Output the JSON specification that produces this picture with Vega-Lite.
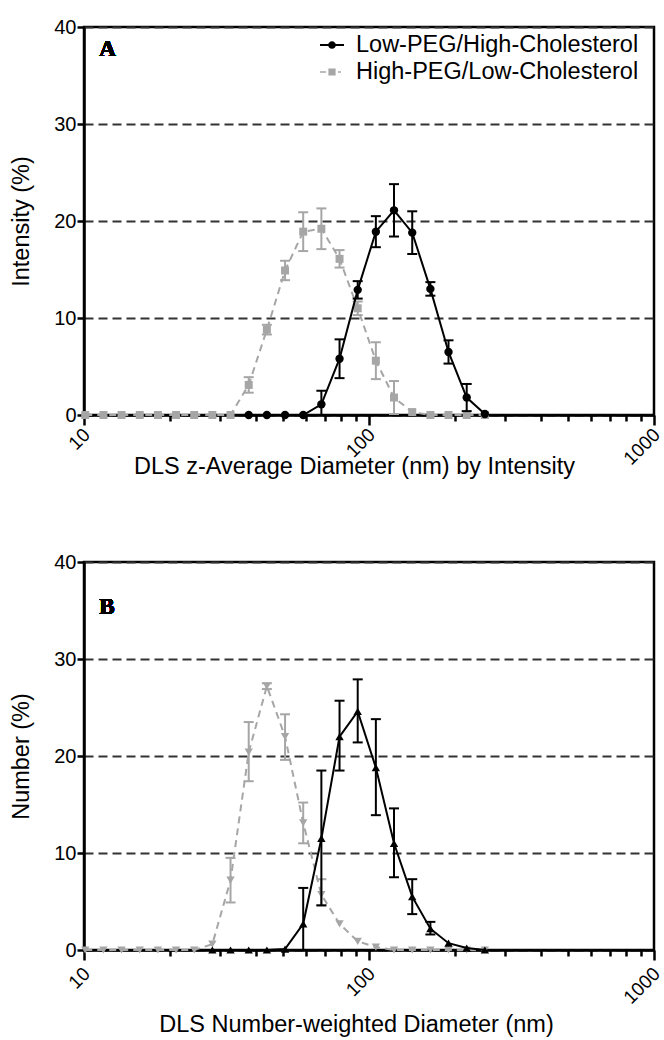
{
  "$schema": "https://vega.github.io/schema/vega-lite/v6.json",
  "padding": {"left": 8, "top": 15, "right": 5, "bottom": 2},
  "background": "white",
  "spacing": 70,
  "config": {
    "view": {"stroke": "black", "strokeWidth": 2.5},
    "font": "Liberation Sans",
    "axis": {"labelFont": "Liberation Sans", "titleFont": "Liberation Sans", "labelColor": "black", "titleColor": "black", "titleFontWeight": "normal"},
    "legend": {"labelFont": "Liberation Sans"}
  },
  "datasets": {
    "A": [
      {"s": "High-PEG/Low-Cholesterol", "d": 10.10, "y": 0},
      {"s": "High-PEG/Low-Cholesterol", "d": 11.70, "y": 0},
      {"s": "High-PEG/Low-Cholesterol", "d": 13.54, "y": 0},
      {"s": "High-PEG/Low-Cholesterol", "d": 15.69, "y": 0},
      {"s": "High-PEG/Low-Cholesterol", "d": 18.17, "y": 0},
      {"s": "High-PEG/Low-Cholesterol", "d": 21.04, "y": 0},
      {"s": "High-PEG/Low-Cholesterol", "d": 24.36, "y": 0},
      {"s": "High-PEG/Low-Cholesterol", "d": 28.21, "y": 0},
      {"s": "High-PEG/Low-Cholesterol", "d": 32.67, "y": 0},
      {"s": "High-PEG/Low-Cholesterol", "d": 37.84, "y": 3.1, "lo": 2.3, "hi": 3.9},
      {"s": "High-PEG/Low-Cholesterol", "d": 43.82, "y": 8.8, "lo": 8.3, "hi": 9.3},
      {"s": "High-PEG/Low-Cholesterol", "d": 50.75, "y": 14.9, "lo": 13.9, "hi": 15.9},
      {"s": "High-PEG/Low-Cholesterol", "d": 58.77, "y": 18.9, "lo": 16.9, "hi": 20.9},
      {"s": "High-PEG/Low-Cholesterol", "d": 68.06, "y": 19.2, "lo": 17.1, "hi": 21.3},
      {"s": "High-PEG/Low-Cholesterol", "d": 78.82, "y": 16.1, "lo": 15.2, "hi": 17.0},
      {"s": "High-PEG/Low-Cholesterol", "d": 91.28, "y": 11.0, "lo": 10.3, "hi": 11.7},
      {"s": "High-PEG/Low-Cholesterol", "d": 105.7, "y": 5.6, "lo": 3.7, "hi": 7.5},
      {"s": "High-PEG/Low-Cholesterol", "d": 122.4, "y": 1.8, "lo": 0.1, "hi": 3.5},
      {"s": "High-PEG/Low-Cholesterol", "d": 141.8, "y": 0.3},
      {"s": "High-PEG/Low-Cholesterol", "d": 164.2, "y": 0},
      {"s": "High-PEG/Low-Cholesterol", "d": 190.1, "y": 0},
      {"s": "High-PEG/Low-Cholesterol", "d": 220.2, "y": 0},
      {"s": "High-PEG/Low-Cholesterol", "d": 255.0, "y": 0},
      {"s": "Low-PEG/High-Cholesterol", "d": 37.84, "y": 0},
      {"s": "Low-PEG/High-Cholesterol", "d": 43.82, "y": 0},
      {"s": "Low-PEG/High-Cholesterol", "d": 50.75, "y": 0},
      {"s": "Low-PEG/High-Cholesterol", "d": 58.77, "y": 0},
      {"s": "Low-PEG/High-Cholesterol", "d": 68.06, "y": 1.1, "lo": 0, "hi": 2.5},
      {"s": "Low-PEG/High-Cholesterol", "d": 78.82, "y": 5.8, "lo": 3.8, "hi": 7.8},
      {"s": "Low-PEG/High-Cholesterol", "d": 91.28, "y": 12.9, "lo": 12.0, "hi": 13.8},
      {"s": "Low-PEG/High-Cholesterol", "d": 105.7, "y": 18.9, "lo": 17.3, "hi": 20.5},
      {"s": "Low-PEG/High-Cholesterol", "d": 122.4, "y": 21.1, "lo": 18.4, "hi": 23.8},
      {"s": "Low-PEG/High-Cholesterol", "d": 141.8, "y": 18.8, "lo": 16.6, "hi": 21.0},
      {"s": "Low-PEG/High-Cholesterol", "d": 164.2, "y": 13.0, "lo": 12.3, "hi": 13.7},
      {"s": "Low-PEG/High-Cholesterol", "d": 190.1, "y": 6.5, "lo": 5.3, "hi": 7.7},
      {"s": "Low-PEG/High-Cholesterol", "d": 220.2, "y": 1.8, "lo": 0.4, "hi": 3.2},
      {"s": "Low-PEG/High-Cholesterol", "d": 255.0, "y": 0.1}
    ],
    "B": [
      {"s": "High-PEG/Low-Cholesterol", "d": 10.10, "y": 0},
      {"s": "High-PEG/Low-Cholesterol", "d": 11.70, "y": 0},
      {"s": "High-PEG/Low-Cholesterol", "d": 13.54, "y": 0},
      {"s": "High-PEG/Low-Cholesterol", "d": 15.69, "y": 0},
      {"s": "High-PEG/Low-Cholesterol", "d": 18.17, "y": 0},
      {"s": "High-PEG/Low-Cholesterol", "d": 21.04, "y": 0},
      {"s": "High-PEG/Low-Cholesterol", "d": 24.36, "y": 0},
      {"s": "High-PEG/Low-Cholesterol", "d": 28.21, "y": 0.6},
      {"s": "High-PEG/Low-Cholesterol", "d": 32.67, "y": 7.2, "lo": 4.9, "hi": 9.5},
      {"s": "High-PEG/Low-Cholesterol", "d": 37.84, "y": 20.4, "lo": 17.4, "hi": 23.5},
      {"s": "High-PEG/Low-Cholesterol", "d": 43.82, "y": 27.2, "lo": 26.9, "hi": 27.5},
      {"s": "High-PEG/Low-Cholesterol", "d": 50.75, "y": 22.0, "lo": 19.6, "hi": 24.3},
      {"s": "High-PEG/Low-Cholesterol", "d": 58.77, "y": 13.1, "lo": 11.0, "hi": 15.2},
      {"s": "High-PEG/Low-Cholesterol", "d": 68.06, "y": 5.7, "lo": 4.6, "hi": 7.3},
      {"s": "High-PEG/Low-Cholesterol", "d": 78.82, "y": 2.7},
      {"s": "High-PEG/Low-Cholesterol", "d": 91.28, "y": 0.9},
      {"s": "High-PEG/Low-Cholesterol", "d": 105.7, "y": 0.3},
      {"s": "High-PEG/Low-Cholesterol", "d": 122.4, "y": 0},
      {"s": "High-PEG/Low-Cholesterol", "d": 141.8, "y": 0},
      {"s": "High-PEG/Low-Cholesterol", "d": 164.2, "y": 0},
      {"s": "High-PEG/Low-Cholesterol", "d": 190.1, "y": 0},
      {"s": "High-PEG/Low-Cholesterol", "d": 220.2, "y": 0},
      {"s": "High-PEG/Low-Cholesterol", "d": 255.0, "y": 0},
      {"s": "Low-PEG/High-Cholesterol", "d": 28.21, "y": 0},
      {"s": "Low-PEG/High-Cholesterol", "d": 32.67, "y": 0},
      {"s": "Low-PEG/High-Cholesterol", "d": 37.84, "y": 0},
      {"s": "Low-PEG/High-Cholesterol", "d": 43.82, "y": 0},
      {"s": "Low-PEG/High-Cholesterol", "d": 50.75, "y": 0.1},
      {"s": "Low-PEG/High-Cholesterol", "d": 58.77, "y": 2.7, "lo": 0, "hi": 6.4},
      {"s": "Low-PEG/High-Cholesterol", "d": 68.06, "y": 11.5, "lo": 4.6, "hi": 18.5},
      {"s": "Low-PEG/High-Cholesterol", "d": 78.82, "y": 22.0, "lo": 18.5, "hi": 25.7},
      {"s": "Low-PEG/High-Cholesterol", "d": 91.28, "y": 24.6, "lo": 21.4, "hi": 27.9},
      {"s": "Low-PEG/High-Cholesterol", "d": 105.7, "y": 18.8, "lo": 13.9, "hi": 23.8},
      {"s": "Low-PEG/High-Cholesterol", "d": 122.4, "y": 11.0, "lo": 7.5, "hi": 14.6},
      {"s": "Low-PEG/High-Cholesterol", "d": 141.8, "y": 5.5, "lo": 3.7, "hi": 7.3},
      {"s": "Low-PEG/High-Cholesterol", "d": 164.2, "y": 2.2, "lo": 1.6, "hi": 2.9},
      {"s": "Low-PEG/High-Cholesterol", "d": 190.1, "y": 0.7},
      {"s": "Low-PEG/High-Cholesterol", "d": 220.2, "y": 0.2},
      {"s": "Low-PEG/High-Cholesterol", "d": 255.0, "y": 0}
    ]
  },
  "vconcat": [
    {
      "width": 570, "height": 388,
      "data": {"name": "A"},
      "resolve": {"axis": {"x": "independent"}},
      "layer": [
        {"transform": [{"filter": "datum.s === 'High-PEG/Low-Cholesterol'"}],
         "mark": {"type": "line", "color": "#a6a6a6", "strokeWidth": 2, "strokeDash": [7, 5]},
         "encoding": {
           "x": {"field": "d", "type": "quantitative", "scale": {"type": "log", "domain": [10, 1000]},
                 "axis": {"orient": "bottom", "values": [10, 100, 1000], "format": "d", "tickSize": 10, "tickWidth": 2.5, "tickColor": "black", "domainWidth": 2.5, "domainColor": "black", "labelAngle": -45, "labelFontSize": 19, "labelPadding": 0, "labelOffset": -4, "grid": false, "title": "DLS z-Average Diameter (nm) by Intensity", "titleFontSize": 23.5, "titlePadding": -14, "titleX": 270}},
           "y": {"field": "y", "type": "quantitative", "title": "Intensity (%)", "scale": {"domain": [0, 40]},
                 "axis": {"values": [0, 10, 20, 30, 40], "tickSize": 7, "tickWidth": 2.5, "tickColor": "black", "domainWidth": 2.5, "domainColor": "black", "labelFontSize": 20, "labelPadding": 1, "grid": true, "gridDash": [9, 5], "gridColor": "#333333", "gridWidth": 2, "titleFontSize": 23.5, "titlePadding": 20}}
         }},
        {"transform": [{"filter": "datum.s === 'High-PEG/Low-Cholesterol' && isValid(datum.hi)"}],
         "mark": {"type": "rule", "color": "#a6a6a6", "strokeWidth": 2},
         "encoding": {
           "x": {"field": "d", "type": "quantitative", "axis": null},
           "y": {"field": "lo", "type": "quantitative", "title": "Intensity (%)"},
           "y2": {"field": "hi"}
         }},
        {"transform": [{"filter": "datum.s === 'High-PEG/Low-Cholesterol' && isValid(datum.hi)"}, {"fold": ["lo", "hi"], "as": ["k", "v"]}],
         "mark": {"type": "tick", "orient": "horizontal", "color": "#a6a6a6", "size": 10, "thickness": 2, "opacity": 1},
         "encoding": {
           "x": {"field": "d", "type": "quantitative", "axis": null},
           "y": {"field": "v", "type": "quantitative", "title": "Intensity (%)"}
         }},
        {"transform": [{"filter": "datum.s === 'High-PEG/Low-Cholesterol'"}],
         "mark": {"type": "point", "shape": "square", "filled": true, "size": 64, "color": "#a6a6a6", "opacity": 1},
         "encoding": {
           "x": {"field": "d", "type": "quantitative", "axis": null},
           "y": {"field": "y", "type": "quantitative", "title": "Intensity (%)"}
         }},
        {"transform": [{"filter": "datum.s === 'Low-PEG/High-Cholesterol'"}],
         "mark": {"type": "line", "color": "black", "strokeWidth": 2},
         "encoding": {
           "x": {"field": "d", "type": "quantitative", "axis": null},
           "y": {"field": "y", "type": "quantitative", "title": "Intensity (%)"}
         }},
        {"transform": [{"filter": "datum.s === 'Low-PEG/High-Cholesterol' && isValid(datum.hi)"}],
         "mark": {"type": "rule", "color": "black", "strokeWidth": 2},
         "encoding": {
           "x": {"field": "d", "type": "quantitative", "axis": null},
           "y": {"field": "lo", "type": "quantitative", "title": "Intensity (%)"},
           "y2": {"field": "hi"}
         }},
        {"transform": [{"filter": "datum.s === 'Low-PEG/High-Cholesterol' && isValid(datum.hi)"}, {"fold": ["lo", "hi"], "as": ["k", "v"]}],
         "mark": {"type": "tick", "orient": "horizontal", "color": "black", "size": 10, "thickness": 2, "opacity": 1},
         "encoding": {
           "x": {"field": "d", "type": "quantitative", "axis": null},
           "y": {"field": "v", "type": "quantitative", "title": "Intensity (%)"}
         }},
        {"transform": [{"filter": "datum.s === 'Low-PEG/High-Cholesterol'"}],
         "mark": {"type": "point", "shape": "circle", "filled": true, "size": 70, "color": "black", "opacity": 1},
         "encoding": {
           "x": {"field": "d", "type": "quantitative", "axis": null},
           "y": {"field": "y", "type": "quantitative", "title": "Intensity (%)"}
         }},
        {"mark": {"type": "text", "text": "A", "font": "Liberation Serif", "fontWeight": "bold", "fontSize": 23, "align": "left", "baseline": "middle", "color": "black"},
         "encoding": {
           "x": {"datum": 11.3, "type": "quantitative", "axis": null},
           "y": {"datum": 37.7, "type": "quantitative", "title": "Intensity (%)"}
         }},
        {"transform": [{"filter": "datum.y > 1000"}],
         "mark": {"type": "point", "filled": true, "opacity": 1},
         "encoding": {
           "x": {"field": "d", "type": "quantitative",
                 "axis": {"orient": "bottom", "values": [20, 30, 40, 50, 60, 70, 80, 90, 200, 300, 400, 500, 600, 700, 800, 900], "tickSize": 6, "tickWidth": 2.5, "tickColor": "black", "labels": false, "domain": false, "grid": false, "title": null}},
           "y": {"field": "y", "type": "quantitative", "title": "Intensity (%)"},
           "color": {"field": "s", "type": "nominal",
                     "scale": {"domain": ["Low-PEG/High-Cholesterol", "High-PEG/Low-Cholesterol"], "range": ["black", "#a6a6a6"]},
                     "legend": {"orient": "none", "legendX": 236, "legendY": 6, "title": null, "labelFontSize": 23.5, "labelLimit": 0, "labelColor": "black", "symbolSize": 576, "symbolStrokeWidth": 0, "labelOffset": 12, "rowPadding": 3}},
           "shape": {"field": "s", "type": "nominal",
                     "scale": {"domain": ["Low-PEG/High-Cholesterol", "High-PEG/Low-Cholesterol"], "range": ["M-1,-0.08H-0.3V0.08H-1Z M0.3,-0.08H1V0.08H0.3Z M0.32,0A0.32,0.32 0 1,1 -0.32,0A0.32,0.32 0 1,1 0.32,0Z", "M-1,-0.07H-0.5V0.07H-1Z M-0.3,-0.3H0.3V0.3H-0.3Z M0.5,-0.07H0.75V0.07H0.5Z"]},
                     "legend": {"orient": "none", "legendX": 236, "legendY": 6, "title": null, "labelFontSize": 23.5, "labelLimit": 0, "labelColor": "black", "symbolSize": 576, "symbolStrokeWidth": 0, "labelOffset": 12, "rowPadding": 3}}
         }}
      ]
    },
    {
      "width": 570, "height": 388,
      "data": {"name": "B"},
      "resolve": {"axis": {"x": "independent"}},
      "layer": [
        {"transform": [{"filter": "datum.s === 'High-PEG/Low-Cholesterol'"}],
         "mark": {"type": "line", "color": "#a6a6a6", "strokeWidth": 2, "strokeDash": [7, 5]},
         "encoding": {
           "x": {"field": "d", "type": "quantitative", "scale": {"type": "log", "domain": [10, 1000]},
                 "axis": {"orient": "bottom", "values": [10, 100, 1000], "format": "d", "tickSize": 10, "tickWidth": 2.5, "tickColor": "black", "domainWidth": 2.5, "domainColor": "black", "labelAngle": -45, "labelFontSize": 19, "labelPadding": 4, "labelOffset": -4, "grid": false, "title": "DLS Number-weighted Diameter (nm)", "titleFontSize": 23.5, "titlePadding": 5, "titleX": 272}},
           "y": {"field": "y", "type": "quantitative", "title": "Number (%)", "scale": {"domain": [0, 40]},
                 "axis": {"values": [0, 10, 20, 30, 40], "tickSize": 7, "tickWidth": 2.5, "tickColor": "black", "domainWidth": 2.5, "domainColor": "black", "labelFontSize": 20, "labelPadding": 1, "grid": true, "gridDash": [9, 5], "gridColor": "#333333", "gridWidth": 2, "titleFontSize": 23.5, "titlePadding": 20}}
         }},
        {"transform": [{"filter": "datum.s === 'High-PEG/Low-Cholesterol' && isValid(datum.hi)"}],
         "mark": {"type": "rule", "color": "#a6a6a6", "strokeWidth": 2},
         "encoding": {
           "x": {"field": "d", "type": "quantitative", "axis": null},
           "y": {"field": "lo", "type": "quantitative", "title": "Number (%)"},
           "y2": {"field": "hi"}
         }},
        {"transform": [{"filter": "datum.s === 'High-PEG/Low-Cholesterol' && isValid(datum.hi)"}, {"fold": ["lo", "hi"], "as": ["k", "v"]}],
         "mark": {"type": "tick", "orient": "horizontal", "color": "#a6a6a6", "size": 10, "thickness": 2, "opacity": 1},
         "encoding": {
           "x": {"field": "d", "type": "quantitative", "axis": null},
           "y": {"field": "v", "type": "quantitative", "title": "Number (%)"}
         }},
        {"transform": [{"filter": "datum.s === 'High-PEG/Low-Cholesterol'"}],
         "mark": {"type": "point", "shape": "triangle-down", "filled": true, "size": 70, "color": "#a6a6a6", "opacity": 1},
         "encoding": {
           "x": {"field": "d", "type": "quantitative", "axis": null},
           "y": {"field": "y", "type": "quantitative", "title": "Number (%)"}
         }},
        {"transform": [{"filter": "datum.s === 'Low-PEG/High-Cholesterol'"}],
         "mark": {"type": "line", "color": "black", "strokeWidth": 2},
         "encoding": {
           "x": {"field": "d", "type": "quantitative", "axis": null},
           "y": {"field": "y", "type": "quantitative", "title": "Number (%)"}
         }},
        {"transform": [{"filter": "datum.s === 'Low-PEG/High-Cholesterol' && isValid(datum.hi)"}],
         "mark": {"type": "rule", "color": "black", "strokeWidth": 2},
         "encoding": {
           "x": {"field": "d", "type": "quantitative", "axis": null},
           "y": {"field": "lo", "type": "quantitative", "title": "Number (%)"},
           "y2": {"field": "hi"}
         }},
        {"transform": [{"filter": "datum.s === 'Low-PEG/High-Cholesterol' && isValid(datum.hi)"}, {"fold": ["lo", "hi"], "as": ["k", "v"]}],
         "mark": {"type": "tick", "orient": "horizontal", "color": "black", "size": 10, "thickness": 2, "opacity": 1},
         "encoding": {
           "x": {"field": "d", "type": "quantitative", "axis": null},
           "y": {"field": "v", "type": "quantitative", "title": "Number (%)"}
         }},
        {"transform": [{"filter": "datum.s === 'Low-PEG/High-Cholesterol'"}],
         "mark": {"type": "point", "shape": "triangle-up", "filled": true, "size": 70, "color": "black", "opacity": 1},
         "encoding": {
           "x": {"field": "d", "type": "quantitative", "axis": null},
           "y": {"field": "y", "type": "quantitative", "title": "Number (%)"}
         }},
        {"mark": {"type": "text", "text": "B", "font": "Liberation Serif", "fontWeight": "bold", "fontSize": 23, "align": "left", "baseline": "middle", "color": "black"},
         "encoding": {
           "x": {"datum": 11.3, "type": "quantitative", "axis": null},
           "y": {"datum": 35.4, "type": "quantitative", "title": "Number (%)"}
         }},
        {"transform": [{"filter": "datum.y > 1000"}],
         "mark": {"type": "point", "filled": true, "opacity": 1},
         "encoding": {
           "x": {"field": "d", "type": "quantitative",
                 "axis": {"orient": "bottom", "values": [20, 30, 40, 50, 60, 70, 80, 90, 200, 300, 400, 500, 600, 700, 800, 900], "tickSize": 6, "tickWidth": 2.5, "tickColor": "black", "labels": false, "domain": false, "grid": false, "title": null}},
           "y": {"field": "y", "type": "quantitative", "title": "Number (%)"},
           "color": {"field": "s", "type": "nominal",
                     "scale": {"domain": ["Low-PEG/High-Cholesterol", "High-PEG/Low-Cholesterol"], "range": ["black", "#a6a6a6"]},
                     "legend": {"orient": "none", "legendX": 236, "legendY": 26, "title": null, "labelFontSize": 23.5, "labelLimit": 0, "labelColor": "black", "symbolSize": 576, "symbolStrokeWidth": 0, "labelOffset": 12, "rowPadding": 3}},
           "shape": {"field": "s", "type": "nominal",
                     "scale": {"domain": ["Low-PEG/High-Cholesterol", "High-PEG/Low-Cholesterol"], "range": ["M-1,-0.08H-0.3V0.08H-1Z M0.3,-0.08H1V0.08H0.3Z M0,-0.34L0.33,0.24H-0.33Z", "M-1,-0.07H-0.5V0.07H-1Z M0,0.34L0.33,-0.24H-0.33Z M0.5,-0.07H0.75V0.07H0.5Z"]},
                     "legend": {"orient": "none", "legendX": 236, "legendY": 26, "title": null, "labelFontSize": 23.5, "labelLimit": 0, "labelColor": "black", "symbolSize": 576, "symbolStrokeWidth": 0, "labelOffset": 12, "rowPadding": 3}}
         }}
      ]
    }
  ]
}
